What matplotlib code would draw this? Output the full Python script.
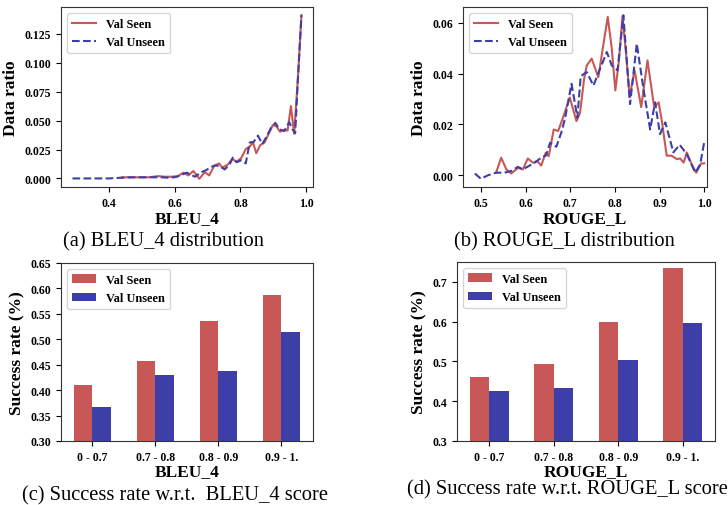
import numpy as np
import matplotlib
matplotlib.use("Agg")
import matplotlib.pyplot as plt

plt.rcParams['font.family'] = ['Liberation Serif', 'DejaVu Serif']

# Curvas de distribucion (a) BLEU_4
bleu_seen_x = [0.44, 0.48, 0.52, 0.55, 0.57, 0.59, 0.61, 0.627, 0.642, 0.657, 0.675, 0.692,
               0.705, 0.720, 0.735, 0.745, 0.762, 0.775, 0.788, 0.803, 0.816, 0.828, 0.838,
               0.848, 0.860, 0.873, 0.888, 0.898, 0.908, 0.920, 0.933, 0.943, 0.953, 0.963,
               0.975, 0.985]
bleu_seen_y = [0.001, 0.001, 0.001, 0.002, 0.0015, 0.0015, 0.002, 0.005, 0.0026, 0.0064, -0.0003,
               0.0055, 0.0026, 0.0107, 0.013, 0.0093, 0.0121, 0.017, 0.0143, 0.018, 0.0253,
               0.0276, 0.031, 0.0218, 0.0288, 0.031, 0.040, 0.046, 0.0453, 0.0404, 0.042,
               0.0413, 0.0625, 0.0386, 0.090, 0.141]
bleu_unseen_x = [0.29, 0.35, 0.40, 0.43, 0.47, 0.52, 0.56, 0.587, 0.607, 0.637, 0.662, 0.682,
                 0.697, 0.707, 0.722, 0.737, 0.752, 0.767, 0.777, 0.788, 0.803, 0.816, 0.828,
                 0.840, 0.853, 0.866, 0.878, 0.893, 0.906, 0.918, 0.933, 0.948, 0.958, 0.966,
                 0.975, 0.985]
bleu_unseen_y = [0.0, 0.0, 0.0, 0.0005, 0.001, 0.001, 0.001, 0.0005, 0.0015, 0.005, 0.0015,
                 0.0055, 0.0073, 0.0093, 0.0113, 0.0107, 0.0078, 0.0121, 0.018, 0.014, 0.0157,
                 0.013, 0.031, 0.0316, 0.037, 0.0297, 0.0355, 0.044, 0.048, 0.0424, 0.041,
                 0.0486, 0.0424, 0.039, 0.090, 0.141]

# Curvas de distribucion (b) ROUGE_L
rouge_seen_x = [0.534, 0.5455, 0.557, 0.568, 0.583, 0.594, 0.605, 0.617, 0.626, 0.635, 0.645,
                0.652, 0.663, 0.673, 0.684, 0.699, 0.714, 0.722, 0.731, 0.737, 0.748, 0.763,
                0.773, 0.784, 0.793, 0.801, 0.809, 0.817, 0.825, 0.833, 0.844, 0.859, 0.873,
                0.888, 0.898, 0.905, 0.916, 0.927, 0.939, 0.946, 0.954, 0.961, 0.972, 0.982,
                0.993, 1.0]
rouge_seen_y = [0.001, 0.0069, 0.0023, 0.0007, 0.0029, 0.0023, 0.0066, 0.0049, 0.0056, 0.0038,
                0.0088, 0.0075, 0.018, 0.0174, 0.0227, 0.0306, 0.0213, 0.0245, 0.0378, 0.0432,
                0.0459, 0.0386, 0.050, 0.0623, 0.050, 0.0334, 0.045, 0.0626, 0.048, 0.0307,
                0.0413, 0.0268, 0.0452, 0.0268, 0.0287, 0.0215, 0.0077, 0.0077, 0.0063, 0.0066,
                0.005, 0.009, 0.0043, 0.001, 0.0046, 0.0047]
rouge_unseen_x = [0.4865, 0.500, 0.516, 0.534, 0.553, 0.568, 0.583, 0.594, 0.609, 0.620, 0.635,
                  0.646, 0.655, 0.669, 0.680, 0.688, 0.695, 0.703, 0.716, 0.7235, 0.737, 0.752,
                  0.767, 0.782, 0.793, 0.806, 0.819, 0.834, 0.849, 0.864, 0.879, 0.890, 0.901,
                  0.913, 0.931, 0.945, 0.961, 0.980, 0.991, 1.0]
rouge_unseen_y = [0.0007, -0.0014, 0.0, 0.001, 0.001, 0.0017, 0.0033, 0.0023, 0.0038, 0.0049,
                  0.0069, 0.0078, 0.0128, 0.0112, 0.0168, 0.022, 0.0286, 0.036, 0.0227, 0.039,
                  0.0406, 0.0353, 0.042, 0.0485, 0.0432, 0.0413, 0.063, 0.028, 0.0518, 0.034,
                  0.018, 0.0287, 0.0162, 0.0208, 0.009, 0.012, 0.0083, 0.001, 0.0043, 0.013]

# Tasa de exito por rango
rangos = ["0 - 0.7", "0.7 - 0.8", "0.8 - 0.9", "0.9 - 1."]
bleu_sr_seen = [0.411, 0.457, 0.535, 0.587]
bleu_sr_unseen = [0.366, 0.429, 0.437, 0.514]
rouge_sr_seen = [0.460, 0.493, 0.598, 0.734]
rouge_sr_unseen = [0.425, 0.432, 0.503, 0.596]

rojo = "#C85858"
azul = "#3E3EA8"
tick_font = {"family": "Liberation Serif", "weight": "bold", "size": 8.5}
label_font = {"family": "Liberation Serif", "weight": "bold", "size": 12.5}
leg_font = {"family": "Liberation Serif", "weight": "bold", "size": 8.8}

fig = plt.figure(figsize=(7.28, 5.06), dpi=100)
ax_a = fig.add_axes([0.0838, 0.6285, 0.346, 0.3557])
ax_b = fig.add_axes([0.636, 0.6285, 0.335, 0.3557])
ax_c = fig.add_axes([0.0838, 0.1265, 0.346, 0.3518])
ax_d = fig.add_axes([0.6277, 0.1265, 0.3544, 0.3538])


def estilo(ax):
    for t in ax.get_xticklabels() + ax.get_yticklabels():
        t.set_fontproperties(tick_font)
    for s in ax.spines.values():
        s.set_color("#333333")


# (a)
ax_a.plot(bleu_seen_x, bleu_seen_y, color=rojo, lw=1.5, label="Val Seen", solid_joinstyle="round")
ax_a.plot(bleu_unseen_x, bleu_unseen_y, color=azul, lw=1.5, ls="--", label="Val Unseen")
ax_a.set_xticks([0.4, 0.6, 0.8, 1.0])
ax_a.set_yticks([0.0, 0.025, 0.05, 0.075, 0.1, 0.125])
ax_a.yaxis.set_major_formatter(matplotlib.ticker.FormatStrFormatter("%.3f"))
ax_a.set_xlabel("BLEU_4", fontdict=label_font, labelpad=1)
ax_a.set_ylabel("Data ratio", fontdict=label_font)
ax_a.legend(prop=leg_font, loc="upper left")
estilo(ax_a)

# (b)
ax_b.plot(rouge_seen_x, rouge_seen_y, color=rojo, lw=1.5, label="Val Seen", solid_joinstyle="round")
ax_b.plot(rouge_unseen_x, rouge_unseen_y, color=azul, lw=1.5, ls="--", label="Val Unseen")
ax_b.set_xlim(0.46, 1.006)
ax_b.set_xticks([0.5, 0.6, 0.7, 0.8, 0.9, 1.0])
ax_b.set_yticks([0.0, 0.02, 0.04, 0.06])
ax_b.yaxis.set_major_formatter(matplotlib.ticker.FormatStrFormatter("%.2f"))
ax_b.set_xlabel("ROUGE_L", fontdict=label_font, labelpad=1)
ax_b.set_ylabel("Data ratio", fontdict=label_font)
ax_b.legend(prop=leg_font, loc="upper left")
estilo(ax_b)

# (c) y (d)
pos = np.arange(len(rangos))
w = 0.3
for ax, seen, unseen, xl, ylim, yt, fmt in [
        (ax_c, bleu_sr_seen, bleu_sr_unseen, "BLEU_4", (0.3, 0.65),
         np.arange(0.30, 0.651, 0.05), "%.2f"),
        (ax_d, rouge_sr_seen, rouge_sr_unseen, "ROUGE_L", (0.3, 0.75),
         [0.3, 0.4, 0.5, 0.6, 0.7], "%.1f")]:
    ax.bar(pos - w / 2, seen, w, color=rojo, label="Val Seen")
    ax.bar(pos + w / 2, unseen, w, color=azul, label="Val Unseen")
    ax.set_xlim(-0.5, 3.5)
    ax.set_ylim(*ylim)
    ax.set_yticks(yt)
    ax.yaxis.set_major_formatter(matplotlib.ticker.FormatStrFormatter(fmt))
    ax.set_xticks(pos)
    ax.set_xticklabels(rangos)
    ax.set_xlabel(xl, fontdict=label_font, labelpad=0)
    ax.set_ylabel("Success rate (%)", fontdict=label_font)
    ax.legend(prop=leg_font, loc="upper left")
    estilo(ax)

cap = {"family": "Liberation Serif", "size": 14.8}
fig.text(0.225, 1 - 242 / 506, "(a) BLEU_4 distribution", ha="center", va="center", **cap)
fig.text(0.775, 1 - 242 / 506, "(b) ROUGE_L distribution", ha="center", va="center", **cap)
fig.text(0.240, 1 - 496 / 506, "(c) Success rate w.r.t.  BLEU_4 score", ha="center", va="center", **cap)
fig.text(0.780, 1 - 490 / 506, "(d) Success rate w.r.t. ROUGE_L score", ha="center", va="center", **cap)

fig.savefig("out.png", dpi=100)
